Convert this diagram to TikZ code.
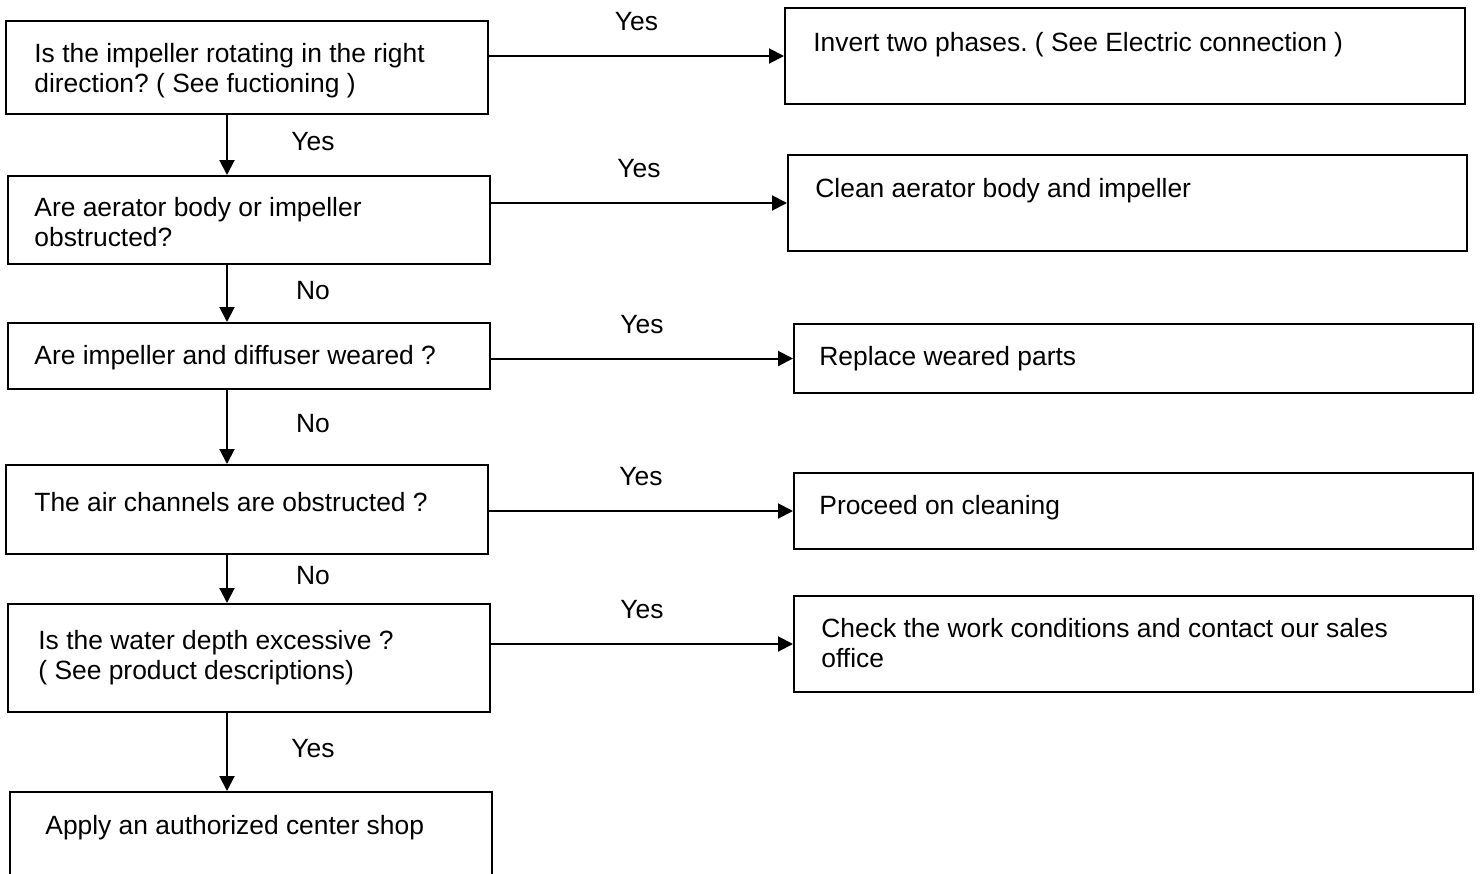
\documentclass[tikz,border=0pt]{standalone}
\usepackage{fontspec}
\setmainfont{Liberation Sans}
\frenchspacing
\usetikzlibrary{arrows.meta}
\tikzset{
	box/.style={draw, line width=1pt, anchor=north west, inner sep=0pt},
	txt/.style={anchor=north west, inner sep=0pt, align=left, font=\fontsize{13.2}{15}\selectfont},
	arr/.style={line width=1pt, -{Triangle[length=7.5pt, width=7.5pt]}},
	hlabel/.style={midway, yshift=17pt, inner sep=0pt, font=\fontsize{13.2}{15}\selectfont},
	vlabel/.style={midway, xshift=43pt, yshift=1.5pt, inner sep=0pt, font=\fontsize{13.2}{15}\selectfont}
}

\begin{document}
\begin{tikzpicture}[x=0.5pt, y=-0.5pt]
		\clip (0,0) rectangle (1480,874);
		\coordinate (spine) at (227,0);
		
		% questions
		\node[box, minimum width=241pt, minimum height=46.5pt] (q1) at (5,20) {};
		\node[box, minimum width=241pt, minimum height=44pt] (q2) at (7,175) {};
		\node[box, minimum width=241pt, minimum height=33pt] (q3) at (7,322) {};
		\node[box, minimum width=241pt, minimum height=44.5pt] (q4) at (5,464) {};
		\node[box, minimum width=241pt, minimum height=54pt] (q5) at (7,603) {};
		\node[box, minimum width=241pt, minimum height=50pt] (q6) at (9,791) {};
		
		\node[txt] (q1txt) at (34,43) {Is the impeller rotating in the right\\direction? ( See fuctioning )};
		\node[txt] (q2txt) at (34,197) {Are aerator body or impeller\\obstructed?};
		\node[txt] (q3txt) at (34,345) {Are impeller and diffuser weared ?};
		\node[txt] (q4txt) at (34,492) {The air channels are obstructed ?};
		\node[txt] (q5txt) at (38,630) {Is the water depth excessive ?\\( See product descriptions)};
		\node[txt] (q6txt) at (45,815) {Apply an authorized center shop};
		
		% remedies
		\node[box, minimum width=340pt, minimum height=48pt] (r1) at (784,7) {};
		\node[box, minimum width=339.5pt, minimum height=48pt] (r2) at (787,154) {};
		\node[box, minimum width=339.5pt, minimum height=34.5pt] (r3) at (793,323) {};
		\node[box, minimum width=339.5pt, minimum height=38pt] (r4) at (793,472) {};
		\node[box, minimum width=339.5pt, minimum height=48pt] (r5) at (793,595) {};
		
		\node[txt] (r1txt) at (813,32) {Invert two phases. ( See Electric connection )};
		\node[txt] (r2txt) at (815,178) {Clean aerator body and impeller};
		\node[txt] (r3txt) at (819,346) {Replace weared parts};
		\node[txt] (r4txt) at (819,495) {Proceed on cleaning};
		\node[txt] (r5txt) at (821,618) {Check the work conditions and contact our sales\\office};
		
		% down the left column
		\draw[arr] (q1.south -| spine) -- node[vlabel] (v1) {Yes} (q2.north -| spine);
		\draw[arr] (q2.south -| spine) -- node[vlabel] (v2) {No} (q3.north -| spine);
		\draw[arr] (q3.south -| spine) -- node[vlabel] (v3) {No} (q4.north -| spine);
		\draw[arr] (q4.south -| spine) -- node[vlabel] (v4) {No} (q5.north -| spine);
		\draw[arr] (q5.south -| spine) -- node[vlabel] (v5) {Yes} (q6.north -| spine);
		
		% across to the remedies
		\draw[arr] (q1.east |- r1.west) -- node[hlabel] (h1) {Yes} (r1.west);
		\draw[arr] (q2.east |- r2.west) -- node[hlabel] (h2) {Yes} (r2.west);
		\draw[arr] (q3.east |- r3.west) -- node[hlabel] (h3) {Yes} (r3.west);
		\draw[arr] (q4.east |- r4.west) -- node[hlabel] (h4) {Yes} (r4.west);
		\draw[arr] (q5.east |- r5.west) -- node[hlabel] (h5) {Yes} (r5.west);
\end{tikzpicture}
\end{document}
